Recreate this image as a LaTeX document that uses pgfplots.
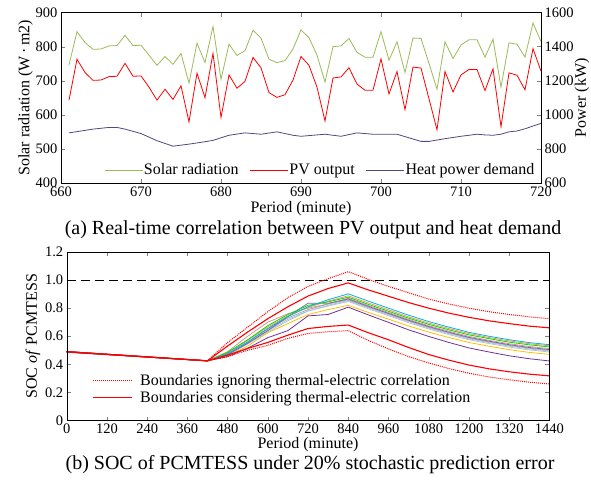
\documentclass[border=0pt]{standalone}
\usepackage{pgfplots}
\pgfplotsset{compat=1.18}
\usepackage{pgfplotstable}
\usepackage{fontspec}
\setmainfont{Liberation Serif}
\definecolor{solar}{HTML}{9BBB59}
\definecolor{heat}{RGB}{85,70,125}
\definecolor{scy}{HTML}{00B0F0}
\definecolor{sor}{HTML}{F79646}
\definecolor{sgr}{HTML}{00DD00}
\definecolor{sro}{HTML}{D99694}
\definecolor{svi}{HTML}{8064A2}
\definecolor{sga}{HTML}{A6A6A6}
\definecolor{slb}{HTML}{9DC3E6}
\definecolor{sgb}{HTML}{C0C0C0}
\definecolor{sgo}{HTML}{FFC000}
\definecolor{spu}{HTML}{7030A0}
\definecolor{bnd}{RGB}{255,0,0}

\pgfplotstableread{
t UD US LS LD cy or gr ro vi ga lb gb go pu
0 0.49 0.49 0.49 0.49 0.492 0.491 0.490 0.490 0.488 0.490 0.489 0.488 0.487 0.486
420 0.425 0.425 0.425 0.425 0.425 0.425 0.425 0.425 0.425 0.425 0.425 0.425 0.425 0.425
480 0.555 0.53 0.466 0.455 0.475 0.48 0.485 0.49 0.47 0.47 0.465 0.465 0.46 0.455
540 0.665 0.63 0.513 0.50 0.56 0.57 0.575 0.60 0.55 0.555 0.545 0.55 0.53 0.515
600 0.775 0.725 0.556 0.535 0.655 0.665 0.675 0.70 0.64 0.65 0.63 0.64 0.625 0.59
660 0.875 0.81 0.608 0.585 0.74 0.745 0.755 0.76 0.74 0.73 0.71 0.72 0.69 0.64
720 0.955 0.886 0.655 0.62 0.81 0.805 0.82 0.80 0.835 0.79 0.78 0.78 0.755 0.745
780 1.01 0.94 0.670 0.632 0.86 0.85 0.845 0.83 0.835 0.83 0.82 0.815 0.79 0.755
840 1.06 0.98 0.680 0.640 0.902 0.888 0.878 0.870 0.865 0.860 0.855 0.848 0.820 0.807
900 1.005 0.93 0.625 0.57 0.850 0.837 0.827 0.818 0.813 0.808 0.803 0.796 0.770 0.752
960 0.955 0.885 0.575 0.51 0.800 0.788 0.778 0.769 0.763 0.758 0.753 0.746 0.722 0.699
1020 0.91 0.84 0.52 0.455 0.750 0.738 0.729 0.720 0.714 0.709 0.704 0.697 0.673 0.646
1080 0.865 0.80 0.47 0.41 0.705 0.694 0.685 0.675 0.669 0.664 0.659 0.652 0.630 0.599
1140 0.83 0.765 0.43 0.37 0.665 0.655 0.646 0.636 0.629 0.624 0.619 0.612 0.591 0.556
1200 0.80 0.735 0.395 0.337 0.628 0.619 0.610 0.599 0.592 0.587 0.582 0.575 0.556 0.517
1260 0.775 0.71 0.368 0.31 0.600 0.591 0.583 0.571 0.565 0.560 0.555 0.548 0.529 0.488
1320 0.755 0.69 0.347 0.29 0.575 0.567 0.558 0.547 0.540 0.535 0.530 0.523 0.505 0.461
1380 0.738 0.672 0.330 0.273 0.555 0.547 0.539 0.527 0.520 0.515 0.510 0.503 0.485 0.440
1440 0.725 0.66 0.318 0.26 0.540 0.532 0.524 0.512 0.505 0.500 0.495 0.488 0.471 0.424
}\soc

\begin{document}
\begin{tikzpicture}
\useasboundingbox (0,0) rectangle (591pt,480pt);
\pgfplotsset{
  every axis/.append style={
    scale only axis,
    anchor=south west,
    tick align=inside,
    major tick length=4pt,
    tick label style={font=\fontsize{14.5}{14.5}\selectfont\rmfamily},
    label style={font=\fontsize{16}{16}\selectfont},
    legend cell align=left,
  },
}
% ---- bottom (b) ----
\begin{axis}[
  at={(66.7pt,59.5pt)}, width=482.6pt, height=168.5pt,
  xmin=0, xmax=1440, ymin=0, ymax=1.2,
  xtick={0,120,240,360,480,600,720,840,960,1080,1200,1320,1440},
  xticklabels={0,120,240,360,480,600,720,840,960,1080,1200,1320,1440},
  ytick={0,0.2,0.4,0.6,0.8,1.0,1.2},
  yticklabels={0,0.2,0.4,0.6,0.8,1.0,1.2},
  xtick pos=both, ytick pos=both,
  xlabel={Period (minute)},
  ylabel={SOC \textit{of} PCMTESS},
  xlabel style={yshift=3.5pt},
  ylabel style={yshift=-2pt},
]
\addplot[black, line width=0.9pt, dash pattern=on 9pt off 5pt] coordinates {(0,1) (1440,1)};
\addplot[sro, line width=0.8pt] table[x=t, y=ro] {\soc};
\addplot[sga, line width=0.8pt] table[x=t, y=ga] {\soc};
\addplot[sgb, line width=0.8pt] table[x=t, y=gb] {\soc};
\addplot[slb, line width=0.8pt] table[x=t, y=lb] {\soc};
\addplot[svi, line width=0.8pt] table[x=t, y=vi] {\soc};
\addplot[sgo, line width=0.8pt] table[x=t, y=go] {\soc};
\addplot[spu, line width=0.8pt] table[x=t, y=pu] {\soc};
\addplot[sor, line width=0.8pt] table[x=t, y=or] {\soc};
\addplot[sgr, line width=0.8pt] table[x=t, y=gr] {\soc};
\addplot[scy, line width=0.8pt] table[x=t, y=cy] {\soc};
\addplot[bnd, line width=1pt, densely dotted] table[x=t, y=UD] {\soc};
\addplot[bnd, line width=1.1pt] table[x=t, y=US] {\soc};
\addplot[bnd, line width=1pt, densely dotted] table[x=t, y=LD] {\soc};
\addplot[bnd, line width=1.1pt] table[x=t, y=LS] {\soc};
\end{axis}
% legend of (b), in an overlaid axis
\begin{axis}[
  at={(66.7pt,59.5pt)}, width=482.6pt, height=168.5pt,
  xmin=0, xmax=1440, ymin=0, ymax=1.2,
  xtick=\empty, ytick=\empty,
  legend columns=1,
  legend image code/.code={\draw[#1] (0pt,0pt) -- (39pt,0pt);},
  legend style={font=\fontsize{16}{16}\selectfont, draw=none, fill=none,
    at={(axis description cs:0.046,0.075)}, anchor=south west,
    /tikz/every odd column/.append style={column sep=6pt}},
]
\addlegendimage{bnd, line width=1pt, densely dotted}
\addlegendentry{Boundaries ignoring thermal-electric correlation}
\addlegendimage{bnd, line width=1.1pt}
\addlegendentry{Boundaries considering thermal-electric correlation}
\end{axis}
% ---- top (a) ----
\begin{axis}[
  at={(61pt,297pt)}, width=480pt, height=170.5pt,
  xmin=660, xmax=720, ymin=400, ymax=900,
  xtick={660,670,680,690,700,710,720},
  xticklabels={660,670,680,690,700,710,720},
  ytick={400,500,600,700,800,900},
  yticklabels={400,500,600,700,800,900},
  ytick pos=left, xtick pos=both,
  xlabel={Period (minute)},
  ylabel={Solar radiation (W\,·\,m2)},
  xlabel style={yshift=1.5pt},
  ylabel style={yshift=-4pt},
]
\addplot[solar, line width=0.8pt] coordinates {
(661,746)(662,844)(663,812)(664,792)(665,793)(666,802)(667,803)(668,833)(669,803)(670,804)
(671,775)(672,745)(673,771)(674,748)(675,780)(676,693)(677,810)(678,753)(679,859)(680,704)
(681,807)(682,774)(683,788)(684,848)(685,825)(686,763)(687,753)(688,759)(689,793)(690,849)
(691,826)(692,775)(693,696)(694,800)(695,802)(696,824)(697,783)(698,769)(699,769)(700,844)
(701,760)(702,814)(703,724)(704,825)(705,824)(706,751)(707,675)(708,814)(709,765)(710,805)
(711,820)(712,820)(713,769)(714,822)(715,681)(716,811)(717,807)(718,769)(719,869)(720,815)
};
\end{axis}
\begin{axis}[
  at={(61pt,297pt)}, width=480pt, height=170.5pt,
  xmin=660, xmax=720, ymin=600, ymax=1600,
  xtick=\empty,
  ytick={600,800,1000,1200,1400,1600},
  yticklabels={600,800,1000,1200,1400,1600},
  ytick pos=right, yticklabel pos=right,
  ylabel={Power (kW)},
  ylabel style={font=\fontsize{16}{16}\selectfont, at={(axis description cs:1.0855,0.5)}, anchor=center, rotate=0},
  legend columns=-1,
  legend image code/.code={\draw[#1] (0pt,0pt) -- (38pt,0pt);},
  legend style={font=\fontsize{16}{16}\selectfont, draw=none, fill=none,
    at={(axis description cs:0.997,0.015)}, anchor=south east,
    /tikz/every odd column/.append style={column sep=-1pt},
    /tikz/every even column/.append style={column sep=9pt}},
]
\addlegendimage{solar, line width=0.8pt}
\addlegendentry{Solar radiation}
\addplot[red, line width=0.8pt] coordinates {
(661,1086)(662,1326)(663,1248)(664,1202)(665,1204)(666,1224)(667,1226)(668,1302)(669,1226)(670,1228)
(671,1162)(672,1086)(673,1150)(674,1090)(675,1170)(676,958)(677,1244)(678,1100)(679,1360)(680,984)
(681,1234)(682,1156)(683,1196)(684,1336)(685,1276)(686,1130)(687,1102)(688,1118)(689,1204)(690,1342)
(691,1290)(692,1162)(693,964)(694,1216)(695,1222)(696,1276)(697,1180)(698,1144)(699,1144)(700,1328)
(701,1122)(702,1254)(703,1030)(704,1280)(705,1274)(706,1094)(707,912)(708,1254)(709,1134)(710,1234)
(711,1266)(712,1266)(713,1142)(714,1270)(715,930)(716,1246)(717,1232)(718,1146)(719,1388)(720,1256)
};
\addlegendentry{PV output}
\addplot[heat, line width=0.8pt] coordinates {
(661,894)(664,916)(666,926)(667,926)(668,916)(670,890)(672,848)(674,816)(676,828)(678,842)
(679,850)(681,880)(683,894)(685,886)(687,900)(689,880)(690,874)(693,886)(695,874)(697,894)
(699,886)(702,886)(705,844)(706,844)(708,860)(710,874)(712,886)(713,882)(714,880)(715,886)
(716,900)(717,905)(718,918)(720,950)
};
\addlegendentry{Heat power demand}
\end{axis}
\node[font=\fontsize{20}{20}\selectfont] at (313pt,250pt) {(a) Real-time correlation between PV output and heat demand};
\node[font=\fontsize{20}{20}\selectfont] at (310pt,15pt) {(b) SOC of PCMTESS under 20\% stochastic prediction error};
\end{tikzpicture}
\end{document}
